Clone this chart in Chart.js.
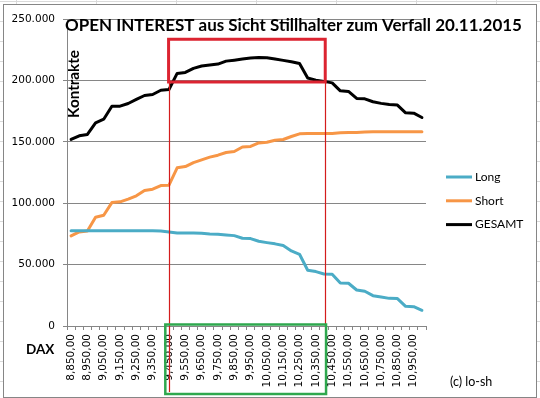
<!DOCTYPE html>
<html>
<head>
<meta charset="utf-8">
<script src="https://cdn.jsdelivr.net/npm/chart.js"></script>
<style>
  html, body { margin: 0; padding: 0; background: #fff; }
  #wrap { width: 540px; height: 398px; }
</style>
</head>
<body>
<div id="wrap"><canvas id="oi-chart" width="540" height="398"></canvas></div>
<script>
// DAX strikes (Verfall 20.11.2015)
const strikeLabels = [
    '8,850,00', '8,900,00', '8,950,00', '9,000,00', '9,050,00', '9,100,00', '9,150,00', '9,200,00', '9,250,00', '9,300,00',
    '9,350,00', '9,400,00', '9,450,00', '9,500,00', '9,550,00', '9,600,00', '9,650,00', '9,700,00', '9,750,00', '9,800,00',
    '9,850,00', '9,900,00', '9,950,00', '10,000,00', '10,050,00', '10,100,00', '10,150,00', '10,200,00', '10,250,00', '10,300,00',
    '10,350,00', '10,400,00', '10,450,00', '10,500,00', '10,550,00', '10,600,00', '10,650,00', '10,700,00', '10,750,00', '10,800,00',
    '10,850,00', '10,900,00', '10,950,00', '11,000,00'
];

const longOI = [
    77500, 77500, 77500, 77500, 77500, 77500, 77500, 77500, 77500, 77500, 77500, 77300,
    76600, 75800, 75800, 75800, 75500, 75000, 74700, 74200, 73600, 71500, 71200, 69000,
    67900, 66900, 65500, 61100, 58400, 45400, 44300, 42400, 42200, 35000, 34800, 29300,
    28300, 24700, 23600, 22500, 22300, 16000, 15700, 12800
];

const shortOI = [
    73400, 76600, 77400, 88600, 90200, 100500, 101100, 103300, 106000, 110300, 111400, 114400,
    114700, 128800, 129800, 133100, 135300, 137500, 139100, 141300, 142100, 145800, 146200, 149100,
    149700, 151300, 151900, 154300, 156500, 156800, 156800, 156800, 156800, 157300, 157600, 157600,
    157900, 158100, 158100, 158100, 158200, 158200, 158200, 158200
];

const gesamtOI = [
    151900, 154900, 156000, 165500, 168400, 179000, 179000, 181200, 184500, 187700, 188500, 192000,
    192600, 205700, 206500, 209800, 211700, 212500, 213300, 215700, 216500, 217400, 218200, 218700,
    218400, 217400, 216300, 215200, 213800, 201900, 200200, 199200, 198000, 191500, 191000, 185300,
    185000, 182600, 181300, 180400, 179900, 173600, 173300, 169800
];

const yTicks = [0, 50000, 100000, 150000, 200000, 250000];

// hand-drawn marks (category index, contracts)
const zoneFrom = 11.95;
const zoneTo = 31.15;
const zoneTop = 233500;
const zoneBottom = 198700;
const strikeBoxFrom = 11.55;
const strikeBoxTo = 31.25;

const GRID = '#868686';
const TICK_FONT = { family: 'DejaVu Sans', size: 10.5 };
const TEXT_FONT = 'Lato';

function formatDE(v) {
    return String(v).replace(/\B(?=(\d{3})+(?!\d))/g, '.');
}

function catX(chart, f) {
    const x = chart.scales.x;
    const i0 = Math.floor(f);
    const step = x.getPixelForValue(1) - x.getPixelForValue(0);
    return x.getPixelForValue(i0) + (f - i0) * step;
}

function fitFont(ctx, text, weight, target, base) {
    ctx.font = `${weight} ${base}px ${TEXT_FONT}`;
    const w = ctx.measureText(text).width;
    const size = base * target / w;
    ctx.font = `${weight} ${size}px ${TEXT_FONT}`;
}

const sheetPlugin = {
    id: 'sheet',
    beforeDraw(chart) {
        const ctx = chart.ctx;
        ctx.save();
        ctx.fillStyle = '#fff';
        ctx.fillRect(0, 0, chart.width, chart.height);
        // spreadsheet cells behind the chart object
        ctx.strokeStyle = '#dadada';
        ctx.lineWidth = 1;
        ctx.beginPath();
        for (let x = 16.5; x < chart.width; x += 80) { ctx.moveTo(x, 0); ctx.lineTo(x, chart.height); }
        for (let y = 1.5; y < chart.height; y += 20) { ctx.moveTo(0, y); ctx.lineTo(chart.width, y); }
        ctx.stroke();
        ctx.fillStyle = '#fff';
        ctx.fillRect(3.5, 4.5, 533, 393);
        ctx.strokeStyle = GRID;
        ctx.strokeRect(3.5, 4.5, 533, 393);
        ctx.restore();
    }
};

const marksPlugin = {
    id: 'marks',
    afterDatasetsDraw(chart) {
        const ctx = chart.ctx;
        const y = chart.scales.y;
        const area = chart.chartArea;
        const xl = catX(chart, zoneFrom);
        const xr = catX(chart, zoneTo);
        const yt = y.getPixelForValue(zoneTop);
        const yb = y.getPixelForValue(zoneBottom);
        ctx.save();
        // thin strike lines
        ctx.strokeStyle = '#d41c1c';
        ctx.lineWidth = 1.2;
        ctx.beginPath();
        ctx.moveTo(Math.round(xl) + 0.5, yb);
        ctx.lineTo(Math.round(xl) + 0.5, chart.height - 6);
        ctx.moveTo(Math.round(xr) + 0.5, yb);
        ctx.lineTo(Math.round(xr) + 0.5, area.bottom);
        ctx.stroke();
        // red zone box
        ctx.strokeStyle = '#dc2431';
        ctx.lineWidth = 3;
        ctx.strokeRect(xl, yt, xr - xl, yb - yt);
        // green strike box below the axis
        const gl = catX(chart, strikeBoxFrom);
        const gr = catX(chart, strikeBoxTo);
        ctx.strokeStyle = '#2ea84e';
        ctx.lineWidth = 2.5;
        ctx.strokeRect(gl, area.bottom - 1.5, gr - gl, chart.height - 2.5 - area.bottom);
        ctx.restore();
    }
};

const textPlugin = {
    id: 'texts',
    afterDraw(chart) {
        const ctx = chart.ctx;
        const area = chart.chartArea;
        ctx.save();
        ctx.fillStyle = '#000';
        ctx.textBaseline = 'middle';
        ctx.textAlign = 'center';

        const title = 'OPEN INTEREST aus Sicht Stillhalter zum Verfall 20.11.2015';
        fitFont(ctx, title, 'bold', 457, 16);
        ctx.fillText(title, 293.5, 25.5);

        ctx.save();
        ctx.translate(74, 84);
        ctx.rotate(-Math.PI / 2);
        fitFont(ctx, 'Kontrakte', 'bold', 68, 14);
        ctx.fillText('Kontrakte', 0, 0);
        ctx.restore();

        ctx.textAlign = 'left';
        ctx.font = `bold 13.5px ${TEXT_FONT}`;
        ctx.fillText('DAX', 26, 350);
        ctx.font = `12.5px ${TEXT_FONT}`;
        ctx.fillText('(c) lo-sh', 450, 382);

        // legend
        const lx = area.right + 20;
        chart.data.datasets.forEach((ds, i) => {
            const ly = 177 + i * 23.8;
            ctx.strokeStyle = ds.borderColor;
            ctx.lineWidth = 3;
            ctx.beginPath();
            ctx.moveTo(lx, ly);
            ctx.lineTo(lx + 26, ly);
            ctx.stroke();
            ctx.font = `12px ${TEXT_FONT}`;
            ctx.fillText(ds.label, lx + 29, ly);
        });
        ctx.restore();
    }
};

const series = (label, data, color) => ({
    label: label,
    data: data,
    borderColor: color,
    backgroundColor: color,
    borderWidth: 3,
    pointRadius: 0,
    tension: 0,
    fill: false,
    borderJoinStyle: 'round',
    borderCapStyle: 'round'
});

const ctx = document.getElementById('oi-chart').getContext('2d');
const chart = new Chart(ctx, {
    type: 'line',
    data: {
        labels: strikeLabels,
        datasets: [
            series('Long', longOI, '#4bacc6'),
            series('Short', shortOI, '#f79646'),
            series('GESAMT', gesamtOI, '#000000')
        ]
    },
    options: {
        responsive: false,
        animation: false,
        layout: {
            padding: { left: 9, right: 114, top: 19, bottom: 2 }
        },
        scales: {
            x: {
                type: 'category',
                offset: true,
                grid: {
                    offset: true,
                    drawOnChartArea: false,
                    drawTicks: true,
                    tickLength: 4,
                    color: GRID
                },
                border: { color: GRID },
                ticks: {
                    autoSkip: false,
                    maxRotation: 90,
                    minRotation: 90,
                    padding: 4,
                    color: '#000',
                    font: TICK_FONT,
                    callback: (v, i) => (i % 2 === 0 ? strikeLabels[i] : '')
                },
                afterFit: (s) => { s.height = 70; }
            },
            y: {
                min: 0,
                max: 250000,
                afterBuildTicks: (s) => { s.ticks = yTicks.map(v => ({ value: v })); },
                grid: { color: GRID, tickLength: 4 },
                border: { color: GRID },
                ticks: {
                    padding: 8,
                    color: '#000',
                    font: TICK_FONT,
                    callback: (v) => formatDE(v)
                },
                afterFit: (s) => { s.width = 58; }
            }
        },
        plugins: {
            legend: { display: false },
            tooltip: { enabled: false }
        }
    },
    plugins: [sheetPlugin, marksPlugin, textPlugin]
});
</script>
</body>
</html>
